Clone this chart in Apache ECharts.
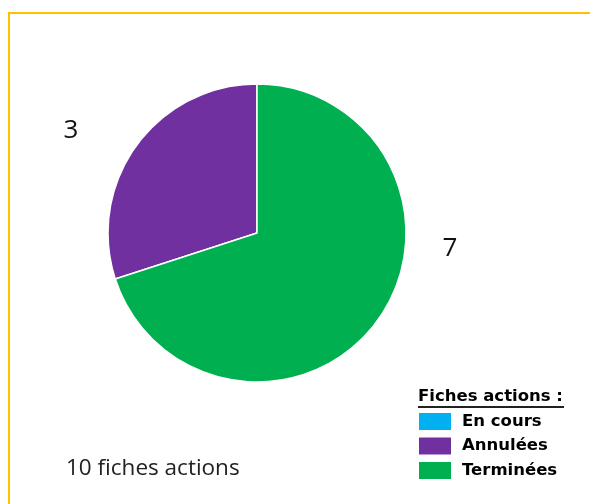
<!DOCTYPE html>
<html>
<head>
<meta charset="utf-8">
<script src="https://cdn.jsdelivr.net/npm/echarts@6/dist/echarts.min.js"></script>
<style>
  html, body { margin: 0; padding: 0; background: #fff; }
  #frame { position: absolute; left: 8px; top: 12px; width: 582px; height: 492px;
           border-top: 2px solid #ffc000; border-left: 2px solid #ffc000; box-sizing: border-box; }
  #chart { position: absolute; left: 0; top: 0; width: 590px; height: 504px; }
</style>
</head>
<body>
<div id="frame"></div>
<div id="chart"></div>
<script>
const categories = ['En cours', 'Annulées', 'Terminées']
const values = [0, 3, 7]
const colors = ['#00b0f0', '#7030a0', '#00b050']
const legendTitle = 'Fiches actions :'
const totalText = values.reduce((a, b) => a + b, 0) + ' fiches actions'

// where Excel put the value labels
const labelPos = [null, [71, 131], [450, 249]]

const chart = echarts.init(document.getElementById('chart'))

const option = {
  animation: false,
  color: colors,
  legend: {
    orient: 'vertical',
    left: 417,
    top: 411,
    padding: 0,
    itemWidth: 34,
    itemHeight: 19,
    itemGap: 3.5,
    icon: 'rect',
    selectedMode: false,
    data: categories,
    textStyle: {
      fontFamily: 'DejaVu Sans',
      fontWeight: 'bold',
      fontSize: 16.5,
      lineHeight: 19,
      color: '#000',
      padding: [0, 0, 0, 5],
    },
  },
  graphic: [
    {
      type: 'text',
      left: 418,
      top: 388,
      style: {
        text: legendTitle,
        fontFamily: 'DejaVu Sans',
        fontWeight: 'bold',
        fontSize: 16.5,
        fill: '#000',
      },
    },
    {
      type: 'rect',
      left: 418,
      top: 406,
      shape: { width: 146, height: 2 },
      style: { fill: '#222' },
    },
    {
      type: 'text',
      left: 66,
      top: 457,
      style: {
        text: totalText,
        fontFamily: 'Open Sans',
        fontSize: 22.5,
        fill: '#222',
      },
    },
  ],
  series: [
    {
      type: 'pie',
      center: [257, 233],
      radius: 149,
      startAngle: 90,
      clockwise: false,
      silent: true,
      itemStyle: {
        borderColor: '#fff',
        borderWidth: 1.5,
      },
      label: {
        show: true,
        position: 'outside',
        formatter: (p) => (p.value ? String(p.value) : ''),
        fontFamily: 'Open Sans',
        fontSize: 26,
        color: '#111',
      },
      labelLine: { show: false },
      labelLayout: (params) => {
        const pos = labelPos[params.dataIndex]
        if (!pos) return {}
        return { x: pos[0], y: pos[1], align: 'center', verticalAlign: 'middle' }
      },
      data: categories.map((name, i) => ({ name, value: values[i] })),
    },
  ],
}

chart.setOption(option)
</script>
</body>
</html>
